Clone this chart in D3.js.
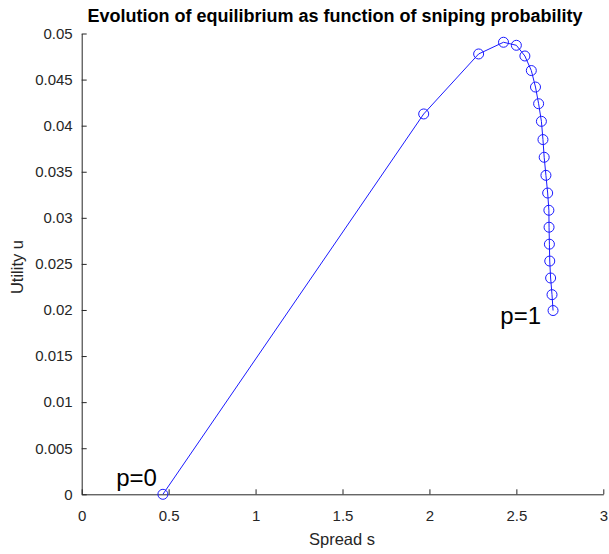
<!DOCTYPE html>
<html>
<head>
<meta charset="utf-8">
<script src="https://cdn.jsdelivr.net/npm/d3@7"></script>
<style>
  html, body { margin: 0; padding: 0; background: #fff; }
  svg { display: block; font-family: "Liberation Sans", Arial, Helvetica, sans-serif; }
</style>
</head>
<body>
<svg id="chart" width="609" height="554"></svg>
<script>
// Data (p = 0, 0.05, ..., 1)
const spread = [0.467, 1.967, 2.283, 2.426, 2.500, 2.549, 2.586, 2.610, 2.628, 2.644, 2.653,
                2.660, 2.670, 2.680, 2.687, 2.688, 2.690, 2.692, 2.697, 2.705, 2.711];
const utility = [0.0000, 0.04127, 0.04778, 0.04905, 0.04872, 0.04756, 0.04598, 0.04419, 0.04238,
                 0.04047, 0.03849, 0.03657, 0.03461, 0.03269, 0.03082, 0.02898, 0.02714,
                 0.02531, 0.02347, 0.02166, 0.01994];
const xTicks = [0, 0.5, 1, 1.5, 2, 2.5, 3];
const yTicks = [0, 0.005, 0.01, 0.015, 0.02, 0.025, 0.03, 0.035, 0.04, 0.045, 0.05];
const titleText = "Evolution of equilibrium as function of sniping probability";
const xLabel = "Spread s";
const yLabel = "Utility u";
const annotations = [{text: "p=0", idx: 0}, {text: "p=1", idx: 20}];

const svg = d3.select("#chart");
const mLeft = 81.7, mRight = 603.3, mTop = 33.5, mBottom = 494.3;
const x = d3.scaleLinear().domain([0, 3]).range([mLeft, mRight]);
const y = d3.scaleLinear().domain([0, 0.05]).range([mBottom, mTop]);
const axisColor = "#262626";

const fmt = d => String(+d.toFixed(3));

const gx = svg.append("g").attr("transform", `translate(0,${mBottom})`)
  .call(d3.axisBottom(x).tickValues(xTicks).tickFormat(fmt).tickSizeInner(-5).tickSizeOuter(0).tickPadding(16));
const gy = svg.append("g").attr("transform", `translate(${mLeft},0)`)
  .call(d3.axisLeft(y).tickValues(yTicks).tickFormat(fmt).tickSizeInner(-5).tickSizeOuter(0).tickPadding(9));
[gx, gy].forEach(g => {
  g.select(".domain").attr("stroke", axisColor).attr("stroke-width", 1);
  g.selectAll(".tick line").attr("stroke", axisColor);
  g.selectAll(".tick text").attr("fill", axisColor).style("font-size", "15px")
    .style("font-family", "'Liberation Sans', Arial, sans-serif");
});

const pts = spread.map((s, i) => [s, utility[i]]);
svg.append("path")
  .attr("d", d3.line().x(d => x(d[0])).y(d => y(d[1]))(pts))
  .attr("fill", "none").attr("stroke", "#1a1aff").attr("stroke-width", 1);
svg.append("g").selectAll("circle").data(pts).join("circle")
  .attr("cx", d => x(d[0])).attr("cy", d => y(d[1])).attr("r", 5)
  .attr("fill", "none").attr("stroke", "#1a1aff").attr("stroke-width", 1);

svg.append("text").attr("x", 335).attr("y", 22).attr("text-anchor", "middle")
  .style("font-size", "18px").style("font-weight", "bold").attr("fill", "#000").text(titleText);
svg.append("text").attr("x", 342).attr("y", 545).attr("text-anchor", "middle")
  .style("font-size", "16.5px").attr("fill", axisColor).text(xLabel);
svg.append("text").attr("transform", `translate(23,267) rotate(-90)`).attr("text-anchor", "middle")
  .style("font-size", "16.5px").attr("fill", axisColor).text(yLabel);

svg.append("text").attr("x", x(spread[0]) - 6).attr("y", y(utility[0]) - 8).attr("text-anchor", "end")
  .style("font-size", "24px").attr("fill", "#000").text(annotations[0].text);
svg.append("text").attr("x", x(spread[20]) - 12).attr("y", y(utility[20]) + 13).attr("text-anchor", "end")
  .style("font-size", "24px").attr("fill", "#000").text(annotations[1].text);
</script>
</body>
</html>
